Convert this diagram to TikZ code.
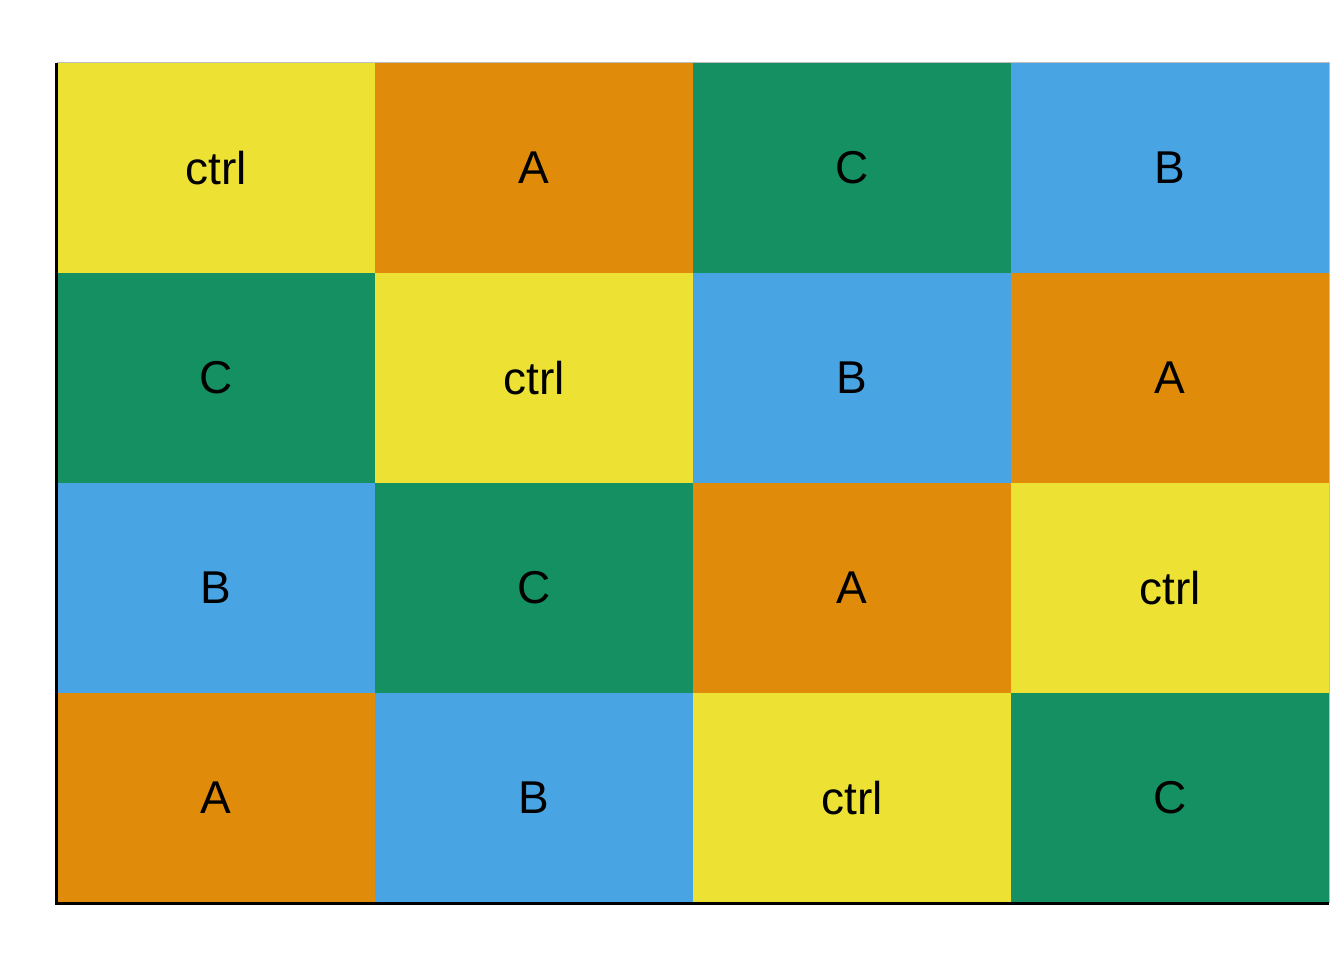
\documentclass[tikz,border=0pt]{standalone}
\usepackage{fontspec}
\setmainfont{Liberation Sans}
\usetikzlibrary{positioning}
\definecolor{colctrl}{HTML}{EDE234}
\definecolor{colA}{HTML}{E08C0A}
\definecolor{colB}{HTML}{48A4E2}
\definecolor{colC}{HTML}{159063}

\begin{document}
\begin{tikzpicture}[x=0.5pt,y=0.5pt,
    tile/.style={rectangle, inner sep=0pt, minimum width=159pt, minimum height=105pt,
                 font=\fontsize{23}{27}\selectfont},
    axisline/.style={black, line width=1.5pt}]
  \useasboundingbox (0,0) rectangle (1344,960);
  % tiles, row by row from the top
  \foreach \lab [count=\i from 0] in {ctrl,A,C,B, C,ctrl,B,A, B,C,A,ctrl, A,B,ctrl,C} {
    \pgfmathtruncatemacro\c{mod(\i,4)}
    \pgfmathtruncatemacro\r{div(\i,4)}
    \node[tile, fill=col\lab] (t\i) at ({57+318*\c+159},{897-210*\r-105}) {\lab};
  }
  \draw[gray!50, line width=0.4pt] (t0.north west) -- (t3.north east) -- (t15.south east);
  \draw[axisline] (t0.north west) -- (t12.south west) -- (t15.south east);
\end{tikzpicture}
\end{document}
